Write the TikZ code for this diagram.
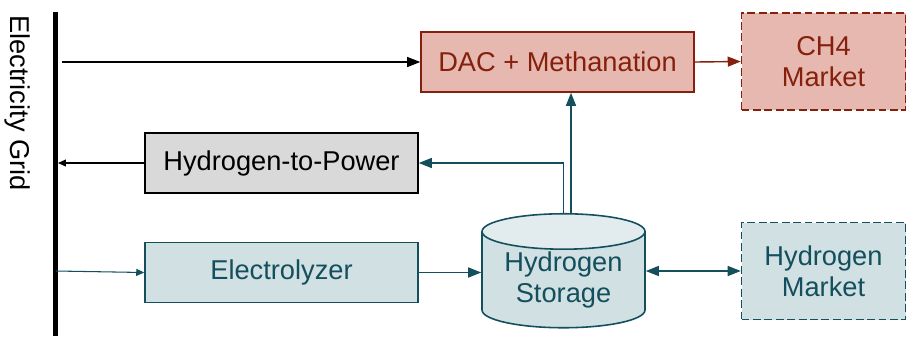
\documentclass[tikz,border=0pt]{standalone}
\usepackage{fontspec}
\setmainfont{Liberation Sans}
\usepackage{xcolor}
\usetikzlibrary{arrows.meta,positioning,shapes.geometric}
\definecolor{h2line}{HTML}{134F5C}
\definecolor{h2fill}{HTML}{D0E0E3}
\definecolor{h2top}{HTML}{E2ECEE}
\definecolor{ch4line}{HTML}{85200C}
\definecolor{ch4fill}{HTML}{E6B8AF}
\definecolor{h2pfill}{HTML}{D9D9D9}

\begin{document}
\begin{tikzpicture}[x=0.02cm,y=-0.02cm,font=\fontsize{15.5}{17.6}\selectfont]
\useasboundingbox (0,0) rectangle (908,336);
\tikzset{unit/.style={draw,line width=0.9pt,inner sep=0pt,minimum width=5.46cm,minimum height=1.2cm,align=center}}
\tikzset{market/.style={unit,dash pattern=on 4.5pt off 2pt,minimum width=3.28cm,minimum height=1.94cm}}
\tikzset{pw/.style={-{Triangle[length=2.6mm,width=2mm]},line width=0.6pt}}
\tikzset{pwsmall/.style={-{Triangle[length=1.6mm,width=1.4mm]},line width=0.6pt}}
\tikzset{gas/.style={pw,h2line,line width=0.8pt}}
% grid bus
\coordinate (gtop) at (55,12);
\coordinate (gbot) at (55,336);
\draw[line width=0.1cm] (gtop) -- (gbot);
\node[rotate=-90] (glabel) at (18,103) {Electricity Grid};
\coordinate (tapdac) at (62,62);
\coordinate (tapout) at (58,163);
\coordinate (tapin) at (56,271);
% conversion units
\node[unit,draw=ch4line,fill=ch4fill,text=ch4line] (dac) at (557.5,62) {DAC + Methanation};
\node[unit,fill=h2pfill] (h2p) at (281.5,163) {Hydrogen-to-Power};
\node[unit,draw=h2line,fill=h2fill,text=h2line] (ely) at (281.5,272.5) {Electrolyzer};
\node[shape=cylinder,shape border rotate=90,aspect=0.3,draw=h2line,line width=0.9pt,
  cylinder uses custom fill,cylinder body fill=h2fill,cylinder end fill=h2top,
  minimum width=3.26cm,minimum height=2.28cm,inner sep=0pt,align=center,text=h2line]
  (stor) at (563.5,280) {Hydrogen\\Storage};
% markets
\node[market,draw=ch4line,fill=ch4fill,text=ch4line] (ch4) at (823.5,61.5) {CH4\\Market};
\node[market,draw=h2line,fill=h2fill,text=h2line] (h2m) at (823.5,271) {Hydrogen\\Market};
% power flows
\draw[pw] (tapdac) -- (dac.west);
\draw[pwsmall] (h2p.west) -- (tapout);
\draw[pwsmall,h2line] (tapin) -- (ely.west);
% gas flows
\draw[pw,ch4line,line width=0.8pt] (dac.east) -- (ch4.west);
\draw[gas] (ely.east) -- (ely.east -| stor.west);
\draw[gas] (stor.north) |- (h2p.east);
\draw[gas] ([xshift=1.5mm]stor.north) -- ([xshift=1.5mm]stor.north |- dac.south);
\draw[gas,{Triangle[length=2.6mm,width=2mm]}-{Triangle[length=2.6mm,width=2mm]}] (h2m.west -| stor.east) -- (h2m.west);
\end{tikzpicture}
\end{document}
